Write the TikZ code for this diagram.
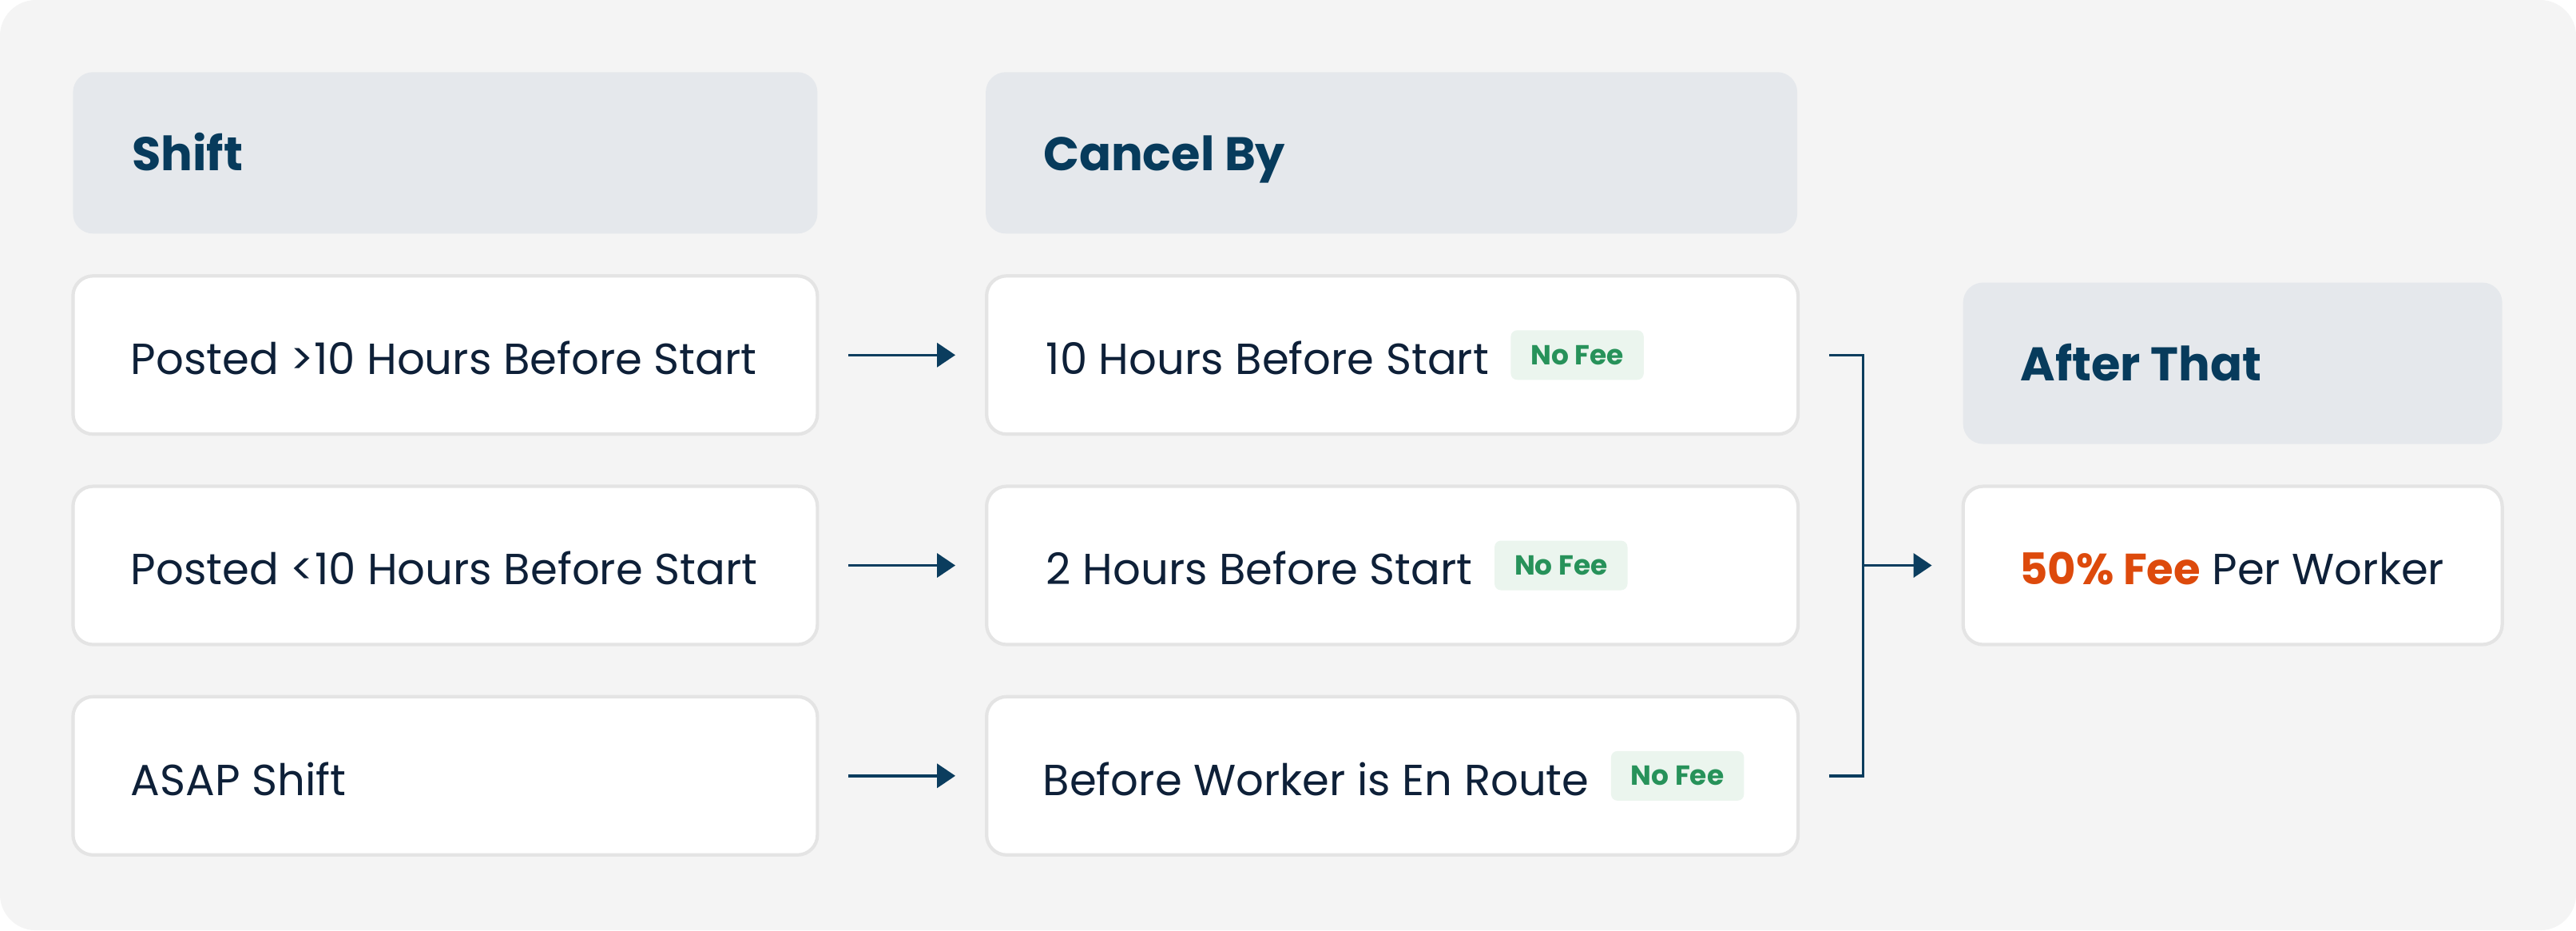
\documentclass[tikz,border=0pt]{standalone}
\usepackage{fontspec}
\setmainfont{Poppins}
\usetikzlibrary{arrows.meta,positioning}
\definecolor{bggrey}{HTML}{F4F4F4}
\definecolor{headfill}{HTML}{E5E8EC}
\definecolor{headtext}{HTML}{073B5C}
\definecolor{bodytext}{HTML}{0E2038}
\definecolor{boxline}{HTML}{E4E4E4}
\definecolor{badgefill}{HTML}{EBF5EE}
\definecolor{badgetext}{HTML}{27925A}
\definecolor{feeorange}{HTML}{DD4A0C}
\definecolor{linkblue}{HTML}{0B3D5E}
\tikzset{
	head/.style={fill=headfill, draw=none, rounded corners=0.25cm, minimum height=2.02cm},
	rowbox/.style={fill=white, draw=boxline, line width=1.2pt, rounded corners=0.25cm, minimum height=1.98cm},
	headlabel/.style={anchor=west, text=headtext, font=\fontsize{16.8}{20}\selectfont\bfseries, inner sep=0pt, text height=1.26em, text depth=0pt},
	rowlabel/.style={anchor=west, text=bodytext, font=\fontsize{15.5}{18}\selectfont, inner sep=0pt, text height=1.38em, text depth=0pt},
	badge/.style={fill=badgefill, text=badgetext, rounded corners=0.08cm, font=\fontsize{9.8}{11}\selectfont\bfseries, minimum height=0.62cm, inner xsep=0.25cm, inner ysep=0pt},
	link/.style={draw=linkblue, line width=1pt},
	arr/.style={link, -{Triangle[length=6.5pt, width=8.5pt]}}
}

\begin{document}
\begin{tikzpicture}[x=0.020568cm, y=-0.020568cm]
			%%%%% START %%%%%
			
			\fill[white] (0, 0) rectangle (1568, 566);
			\fill[bggrey, rounded corners=0.45cm] (0, 0) rectangle (1568, 566);
			
			% headers
			\node[head, minimum width=9.32cm] (shift) at (271, 93) {};
			\node[headlabel] (shiftlbl) at ([xshift=0.74cm]shift.west) {Shift};
			\node[head, minimum width=10.16cm] (cancel) at (847, 93) {};
			\node[headlabel] (cancellbl) at ([xshift=0.72cm]cancel.west) {Cancel By};
			\node[head, minimum width=6.75cm] (after) at (1359, 221) {};
			\node[headlabel] (afterlbl) at ([xshift=0.72cm]after.west) {After That};
			
			% shift column
			\node[rowbox, minimum width=9.32cm] (s1) at (271, 216) {};
			\node[rowlabel] (s1lbl) at ([xshift=0.74cm]s1.west) {Posted >10 Hours Before Start};
			\node[rowbox, minimum width=9.32cm] (s2) at (271, 344) {};
			\node[rowlabel] (s2lbl) at ([xshift=0.74cm]s2.west) {Posted <10 Hours Before Start};
			\node[rowbox, minimum width=9.32cm] (s3) at (271, 472) {};
			\node[rowlabel] (s3lbl) at ([xshift=0.74cm]s3.west) {ASAP Shift};
			
			% cancel column
			\node[rowbox, minimum width=10.16cm] (c1) at (847.5, 216) {};
			\node[rowlabel] (c1lbl) at ([xshift=0.76cm]c1.west) {10 Hours Before Start};
			\node[badge, right=0.26cm of c1lbl] (c1fee) {No Fee};
			\node[rowbox, minimum width=10.16cm] (c2) at (847.5, 344) {};
			\node[rowlabel] (c2lbl) at ([xshift=0.76cm]c2.west) {2 Hours Before Start};
			\node[badge, right=0.26cm of c2lbl] (c2fee) {No Fee};
			\node[rowbox, minimum width=10.16cm] (c3) at (847.5, 472) {};
			\node[rowlabel] (c3lbl) at ([xshift=0.72cm]c3.west) {Before Worker is En Route};
			\node[badge, right=0.26cm of c3lbl] (c3fee) {No Fee};
			
			% fee box
			\node[rowbox, minimum width=6.75cm] (fee) at (1359, 344) {};
			\node[rowlabel] (feelbl) at ([xshift=0.72cm]fee.west) {\textcolor{feeorange}{\bfseries 50\% Fee} Per Worker};
			
			% arrows
			\foreach \i in {1,2,3}
				\draw[arr] ([xshift=0.37cm]s\i.east) -- ([xshift=-0.37cm]c\i.west);
			
			\coordinate (join) at (1134, 344);
			\draw[link] ([xshift=0.37cm]c1.east) -| (join) |- ([xshift=0.37cm]c3.east);
			\draw[arr] (join) -- ([xshift=-0.37cm]fee.west);
			
			%%%%% END %%%%%
		\end{tikzpicture}
\end{document}
